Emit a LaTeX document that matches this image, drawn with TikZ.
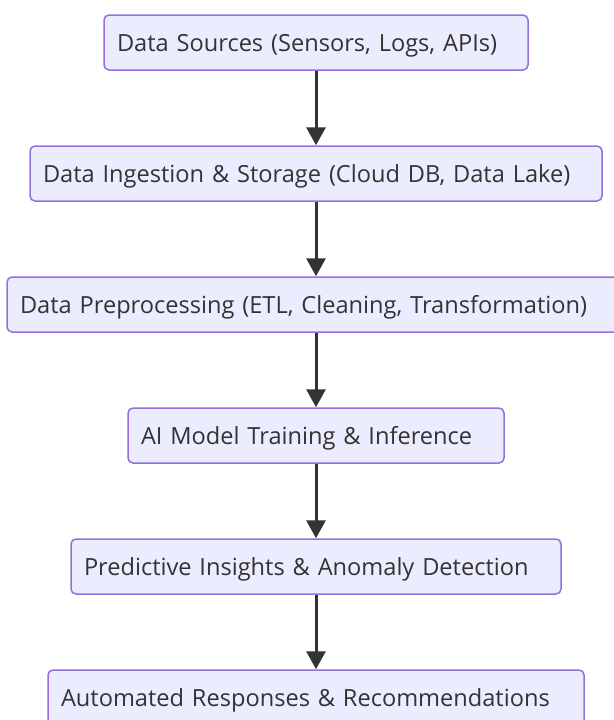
\documentclass[tikz,border=0pt]{standalone}
\usepackage{fontspec}
\setmainfont{Open Sans}
\usetikzlibrary{arrows.meta}
\definecolor{boxfill}{HTML}{ECECFF}
\definecolor{boxline}{HTML}{9370DB}
\definecolor{ink}{HTML}{333333}

\begin{document}
\begin{tikzpicture}[node distance={131pt}, thick,
        main/.style = {draw=boxline, fill=boxfill, line width=1.5pt, rounded corners=5pt, minimum height=55pt, inner xsep=13pt, text height=17pt, text depth=0pt, align=left, text=ink, font=\fontsize{23.6}{28}\selectfont},
        flow/.style = {draw=ink, line width=3pt, -{Triangle[width=19pt,length=18pt]}}]
        \useasboundingbox (0,0) rectangle (613pt,-720pt);
        \node[main, text width=398pt] (1) at (316pt,-42.5pt) {Data Sources (Sensors, Logs, APIs)};
        \node[main, text width=546pt] (2) [below of=1] {Data Ingestion \& Storage (Cloud DB, Data Lake)};
        \node[main, text width=592pt] (3) [below of=2] {Data Preprocessing (ETL, Cleaning, Transformation)};
        \node[main, text width=350pt] (4) [below of=3] {AI Model Training \& Inference};
        \node[main, text width=464pt] (5) [below of=4] {Predictive Insights \& Anomaly Detection};
        \node[main, text width=510pt] (6) [below of=5] {Automated Responses \& Recommendations};
        \draw[flow] (1) -- (2);
        \draw[flow] (2) -- (3);
        \draw[flow] (3) -- (4);
        \draw[flow] (4) -- (5);
        \draw[flow] (5) -- (6);
    \end{tikzpicture}
\end{document}
